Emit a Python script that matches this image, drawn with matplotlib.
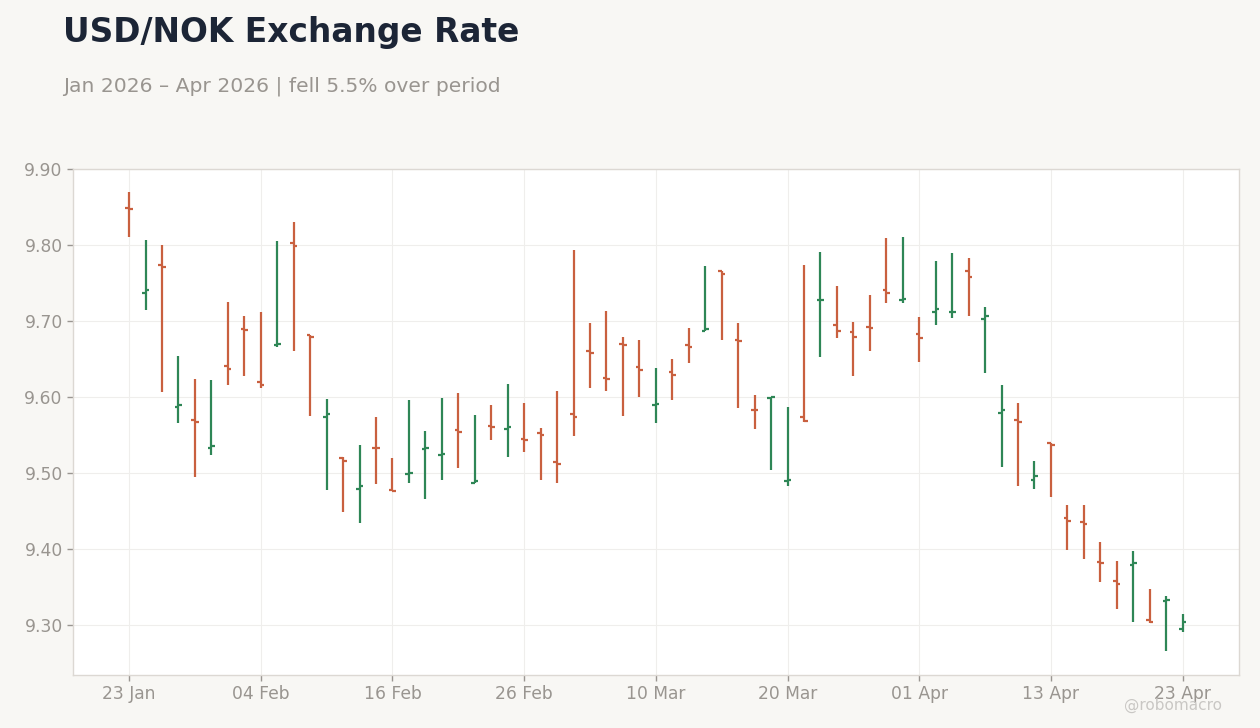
import matplotlib

matplotlib.use("Agg")
import matplotlib.pyplot as plt
import numpy as np
import pandas as pd

# USD/NOK daily OHLC, business days 23 Jan - 23 Apr 2026
dates = pd.bdate_range("2026-01-23", "2026-04-23")

opens = [
    9.849, 9.737, 9.774, 9.587, 9.570, 9.532, 9.641, 9.689, 9.620, 9.668,
    9.802, 9.681, 9.574, 9.520, 9.479, 9.533, 9.477, 9.498, 9.531, 9.523,
    9.556, 9.486, 9.562, 9.557, 9.544, 9.552, 9.514, 9.577, 9.660, 9.625,
    9.669, 9.639, 9.589, 9.632, 9.668, 9.687, 9.765, 9.675, 9.583, 9.598,
    9.489, 9.574, 9.727, 9.695, 9.685, 9.692, 9.740, 9.727, 9.683, 9.712,
    9.711, 9.766, 9.703, 9.579, 9.570, 9.491, 9.539, 9.441, 9.435, 9.382,
    9.357, 9.378, 9.306, 9.331, 9.295,
]
highs = [
    9.870, 9.807, 9.800, 9.654, 9.624, 9.622, 9.725, 9.707, 9.712, 9.805,
    9.830, 9.681, 9.597, 9.521, 9.536, 9.574, 9.520, 9.596, 9.555, 9.599,
    9.605, 9.576, 9.589, 9.617, 9.592, 9.559, 9.608, 9.793, 9.697, 9.713,
    9.679, 9.675, 9.638, 9.650, 9.691, 9.772, 9.766, 9.697, 9.603, 9.600,
    9.586, 9.774, 9.791, 9.746, 9.699, 9.734, 9.809, 9.811, 9.705, 9.779,
    9.789, 9.783, 9.718, 9.616, 9.592, 9.516, 9.539, 9.457, 9.457, 9.409,
    9.384, 9.397, 9.347, 9.338, 9.314,
]
lows = [
    9.810, 9.714, 9.606, 9.566, 9.495, 9.524, 9.616, 9.627, 9.611, 9.666,
    9.660, 9.575, 9.477, 9.448, 9.434, 9.485, 9.476, 9.486, 9.466, 9.491,
    9.506, 9.486, 9.543, 9.521, 9.527, 9.491, 9.487, 9.548, 9.611, 9.608,
    9.575, 9.600, 9.565, 9.596, 9.644, 9.687, 9.675, 9.585, 9.558, 9.503,
    9.482, 9.567, 9.652, 9.678, 9.628, 9.660, 9.723, 9.723, 9.646, 9.695,
    9.704, 9.706, 9.631, 9.508, 9.482, 9.478, 9.468, 9.398, 9.387, 9.356,
    9.321, 9.303, 9.302, 9.265, 9.290,
]
closes = [
    9.847, 9.740, 9.771, 9.589, 9.567, 9.535, 9.637, 9.688, 9.616, 9.669,
    9.799, 9.679, 9.578, 9.515, 9.482, 9.532, 9.476, 9.500, 9.532, 9.525,
    9.554, 9.489, 9.560, 9.560, 9.543, 9.550, 9.512, 9.574, 9.658, 9.623,
    9.668, 9.635, 9.590, 9.629, 9.665, 9.689, 9.761, 9.673, 9.582, 9.600,
    9.490, 9.568, 9.728, 9.687, 9.679, 9.690, 9.737, 9.729, 9.677, 9.715,
    9.712, 9.758, 9.706, 9.582, 9.567, 9.496, 9.536, 9.437, 9.433, 9.381,
    9.354, 9.381, 9.303, 9.332, 9.304,
]

UP = "#2e8656"
DOWN = "#c9603f"
BG = "#f8f7f4"
GRAY = "#999590"

x = np.arange(len(dates))
o = np.array(opens)
h = np.array(highs)
l = np.array(lows)
c = np.array(closes)
colors = [UP if cc >= oo else DOWN for oo, cc in zip(o, c)]

fig = plt.figure(figsize=(12.6, 7.28), dpi=100)
fig.patch.set_facecolor(BG)
ax = fig.add_axes([0.058, 0.073, 0.925, 0.695])
ax.set_facecolor("white")

w = 0.22
ax.vlines(x, l, h, colors=colors, linewidth=1.6, zorder=3)
ax.hlines(o, x - w, x, colors=colors, linewidth=1.6, zorder=3)
ax.hlines(c, x, x + w, colors=colors, linewidth=1.6, zorder=3)

ax.set_xlim(-3.4, 67.4)
ax.set_ylim(9.234, 9.90)
ax.set_yticks(np.arange(9.30, 9.901, 0.10))
ax.yaxis.set_major_formatter(plt.FormatStrFormatter("%.2f"))
tick_idx = x[::8]
ax.set_xticks(tick_idx)
ax.set_xticklabels([dates[i].strftime("%d %b") for i in tick_idx])

ax.grid(True, color="#efeeec", linewidth=0.8, zorder=0)
for s in ax.spines.values():
    s.set_color("#dcd8d3")
    s.set_linewidth(1.0)
ax.tick_params(colors="#9a9691", labelcolor=GRAY, labelsize=12.3, length=4, width=1)

fig.text(0.05, 0.956, "USD/NOK Exchange Rate", fontsize=23.7, fontweight="bold",
         color="#1c2536", ha="left", va="center")
fig.text(0.05, 0.882, "Jan 2026 \u2013 Apr 2026 | fell 5.5% over period",
         fontsize=14.6, color=GRAY, ha="left", va="center")
fig.text(0.97, 0.031, "@robomacro", fontsize=11, color="#c9c7c4",
         ha="right", va="center")

fig.savefig("out.png", dpi=100, facecolor=BG)
